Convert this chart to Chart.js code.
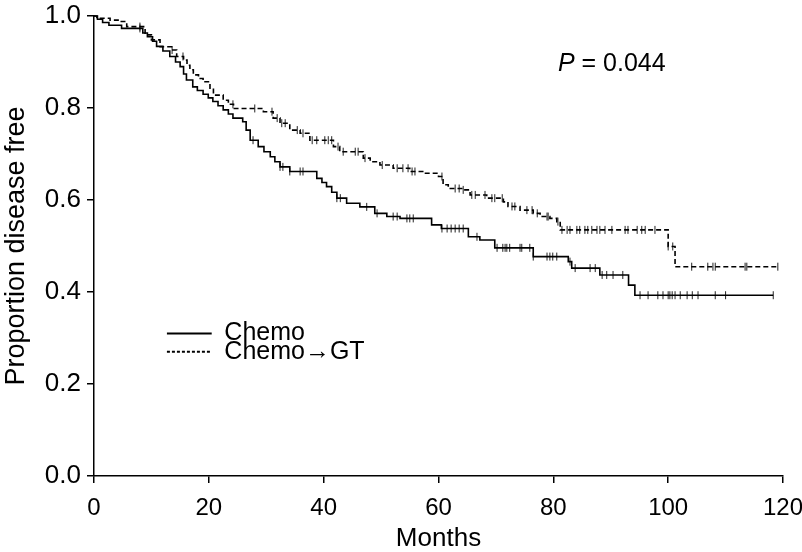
<!DOCTYPE html>
<html>
<head>
<meta charset="utf-8">
<script src="https://cdn.jsdelivr.net/npm/chart.js@4/dist/chart.umd.min.js"></script>
<style>
  body { margin: 0; background: #fff; }
</style>
</head>
<body>
<canvas id="km" width="802" height="552"></canvas>
<script>
// Kaplan-Meier curves (time in months, proportion disease free after the event)
const chemoTimes = [0, 0.6, 1.5, 2.6, 4.8, 8.5, 9.3, 10.2, 10.9, 12.0, 13.2, 14.2, 15.0, 15.6, 16.1, 17.2, 18.0, 19.0, 19.9, 20.7, 21.6, 22.5, 23.4, 24.2, 25.9, 26.5, 27.2, 28.6, 29.6, 30.7, 31.5, 32.4, 34.1, 38.8, 39.7, 40.5, 41.4, 42.3, 44.0, 46.3, 48.9, 51.0, 53.3, 58.8, 60.5, 65.2, 67.2, 69.8, 76.5, 82.6, 83.2, 88.1, 93.1, 94.2, 118.3];
const chemoSurv  = [1.0, 0.993, 0.986, 0.980, 0.973, 0.963, 0.955, 0.945, 0.934, 0.924, 0.912, 0.900, 0.890, 0.874, 0.861, 0.846, 0.838, 0.830, 0.822, 0.814, 0.805, 0.796, 0.787, 0.778, 0.770, 0.752, 0.730, 0.716, 0.705, 0.694, 0.683, 0.672, 0.662, 0.647, 0.638, 0.629, 0.617, 0.604, 0.593, 0.585, 0.571, 0.564, 0.560, 0.546, 0.538, 0.520, 0.513, 0.496, 0.477, 0.466, 0.452, 0.437, 0.415, 0.393, 0.393];

const gtTimes = [0, 0.5, 2.8, 4.5, 5.7, 8.9, 10.0, 11.5, 13.5, 14.4, 15.6, 16.2, 16.7, 17.3, 18.2, 19.0, 20.2, 20.8, 22.5, 23.4, 24.3, 29.5, 31.2, 32.4, 34.1, 35.9, 37.6, 41.7, 42.8, 46.9, 48.1, 49.8, 52.1, 55.0, 57.4, 60.0, 60.8, 61.7, 64.3, 65.5, 68.4, 71.3, 72.1, 74.2, 76.5, 77.7, 79.4, 80.6, 81.2, 100.0, 101.2, 119.2];
const gtSurv  = [1.0, 0.995, 0.991, 0.988, 0.977, 0.959, 0.948, 0.933, 0.926, 0.912, 0.904, 0.893, 0.883, 0.872, 0.864, 0.857, 0.843, 0.828, 0.817, 0.808, 0.799, 0.792, 0.778, 0.767, 0.752, 0.745, 0.730, 0.716, 0.705, 0.691, 0.683, 0.676, 0.669, 0.662, 0.658, 0.651, 0.633, 0.625, 0.622, 0.611, 0.604, 0.596, 0.586, 0.578, 0.571, 0.564, 0.560, 0.553, 0.535, 0.499, 0.455, 0.455];

// censoring times (tick marks)
const chemoCensor = [8.0, 27.7, 32.4, 32.9, 34.1, 35.9, 36.4, 42.3, 42.9, 47.5, 49.3, 52.1, 52.8, 54.5, 55.0, 55.6, 60.6, 61.5, 62.2, 62.9, 63.6, 64.3, 66.7, 70.2, 71.2, 71.6, 71.9, 72.4, 74.2, 74.5, 75.9, 76.5, 78.9, 79.4, 79.9, 80.6, 82.9, 83.8, 86.4, 87.3, 88.5, 89.3, 90.4, 92.1, 95.1, 96.5, 98.2, 99.1, 100.0, 100.3, 100.7, 101.2, 102.1, 103.3, 104.2, 105.2, 108.2, 110.0, 118.3];
const gtCensor = [8.0, 13.6, 15.5, 24.2, 28.0, 31.0, 31.9, 32.7, 33.3, 35.4, 36.4, 38.0, 38.8, 40.2, 40.8, 41.4, 42.5, 43.4, 45.5, 46.0, 47.2, 50.2, 52.8, 53.8, 54.7, 55.4, 55.9, 60.6, 62.9, 63.6, 64.3, 65.8, 66.4, 68.1, 69.3, 69.8, 71.1, 72.8, 73.3, 75.4, 76.3, 77.2, 78.9, 79.1, 80.8, 81.5, 82.4, 82.9, 84.1, 84.6, 85.5, 86.0, 86.7, 87.6, 88.1, 89.0, 90.2, 92.5, 93.0, 94.6, 95.4, 96.0, 97.7, 100.0, 100.8, 104.1, 106.9, 107.8, 108.2, 113.4, 113.7, 119.1];

const xTicks = [0, 20, 40, 60, 80, 100, 120];
const yTicks = [0.0, 0.2, 0.4, 0.6, 0.8, 1.0];
const seriesNames = ['Chemo', 'Chemo\u2192GT'];
const pValue = '0.044';

function survAt(times, surv, t) {
    let v = surv[0];
    for (let i = 0; i < times.length; i++) {
        if (times[i] <= t) v = surv[i];
    }
    return v;
}
function curve(times, surv) {
    return times.map((t, i) => ({ x: t, y: surv[i] }));
}
function marks(censor, times, surv) {
    return censor.map(t => ({ x: t, y: survAt(times, surv, t) }));
}

const FONT = "'Liberation Sans', Arial, Helvetica, sans-serif";

// legend and P value drawn inside the plot
const overlay = {
    id: 'overlay',
    afterDatasetsDraw(chart) {
        const ctx = chart.ctx;
        const x = chart.scales.x, y = chart.scales.y;
        ctx.save();
        ctx.strokeStyle = '#000';
        ctx.fillStyle = '#000';
        ctx.lineWidth = 2;
        ctx.font = '25px ' + FONT;
        ctx.textBaseline = 'middle';
        const rows = [0.31, 0.27];
        rows.forEach((v, i) => {
            const py = y.getPixelForValue(v);
            ctx.setLineDash(i === 0 ? [] : [3, 2]);
            ctx.beginPath();
            ctx.moveTo(x.getPixelForValue(12.7), py);
            ctx.lineTo(x.getPixelForValue(20.5), py);
            ctx.stroke();
            ctx.fillText(seriesNames[i], x.getPixelForValue(22.7), py);
        });
        const px = x.getPixelForValue(80.8), py = y.getPixelForValue(0.895);
        ctx.font = 'italic 25px ' + FONT;
        ctx.fillText('P', px, py);
        const w = ctx.measureText('P').width;
        ctx.font = '25px ' + FONT;
        ctx.fillText(' = ' + pValue, px + w, py);
        ctx.restore();
    }
};

new Chart(document.getElementById('km'), {
    type: 'line',
    data: {
        datasets: [{
            label: seriesNames[0],
            data: curve(chemoTimes, chemoSurv),
            borderColor: '#000',
            borderWidth: 1.6,
            stepped: true,
            pointRadius: 0,
            fill: false,
            clip: false
        }, {
            label: seriesNames[1],
            data: curve(gtTimes, gtSurv),
            borderColor: '#000',
            borderWidth: 1.6,
            borderDash: [5, 3],
            stepped: true,
            pointRadius: 0,
            fill: false,
            clip: false
        }, {
            label: 'censor chemo',
            data: marks(chemoCensor, chemoTimes, chemoSurv),
            showLine: false,
            pointStyle: 'line',
            rotation: 90,
            pointRadius: 4,
            borderColor: '#222',
            borderWidth: 1
        }, {
            label: 'censor gt',
            data: marks(gtCensor, gtTimes, gtSurv),
            showLine: false,
            pointStyle: 'line',
            rotation: 90,
            pointRadius: 4,
            borderColor: '#222',
            borderWidth: 1
        }]
    },
    options: {
        responsive: false,
        animation: false,
        layout: { padding: { top: 16, right: 19, left: 0, bottom: 0 } },
        plugins: {
            legend: { display: false },
            tooltip: { enabled: false }
        },
        scales: {
            x: {
                type: 'linear',
                min: 0,
                max: 120,
                afterBuildTicks: s => { s.ticks = xTicks.map(v => ({ value: v })); },
                afterFit: s => { s.height = 76; s.paddingLeft = 0; s.paddingRight = 0; },
                border: { display: true, color: '#000', width: 1.5 },
                grid: { drawOnChartArea: false, drawTicks: true, tickLength: 7, color: '#000', lineWidth: 1.5 },
                ticks: { color: '#000', font: { family: FONT, size: 24 }, padding: 11, maxRotation: 0 },
                title: { display: true, text: 'Months', color: '#000', font: { family: FONT, size: 26 }, padding: { top: 0, bottom: -2 } }
            },
            y: {
                type: 'linear',
                min: 0,
                max: 1,
                afterBuildTicks: s => { s.ticks = yTicks.map(v => ({ value: v })); },
                afterFit: s => { s.width = 94; s.paddingTop = 0; s.paddingBottom = 0; },
                border: { display: true, color: '#000', width: 1.5 },
                grid: { drawOnChartArea: false, drawTicks: true, tickLength: 7, color: '#000', lineWidth: 1.5 },
                ticks: { color: '#000', font: { family: FONT, size: 26 }, padding: 6, callback: v => v.toFixed(1) },
                title: { display: true, text: 'Proportion disease free', color: '#000', font: { family: FONT, size: 27 }, padding: { top: 0, bottom: 0 } }
            }
        }
    },
    plugins: [overlay]
});
</script>
</body>
</html>
